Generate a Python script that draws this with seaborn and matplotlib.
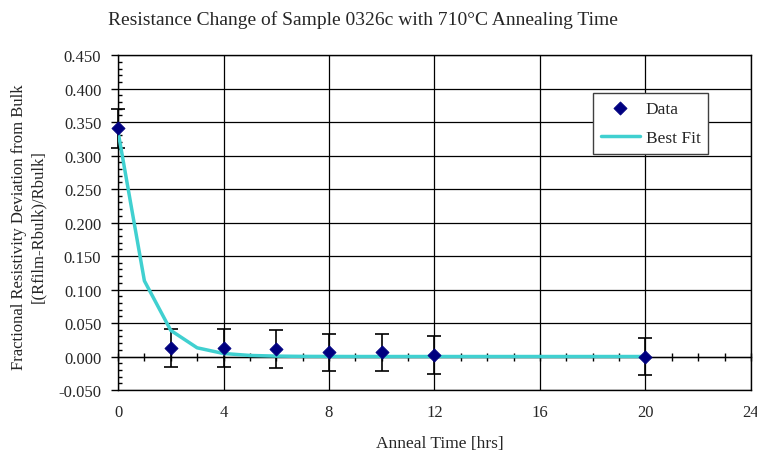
import numpy as np
import pandas as pd
import seaborn as sns
import matplotlib.pyplot as plt
from matplotlib.ticker import MultipleLocator, FormatStrFormatter, NullFormatter

# Measured data
anneal_hrs = [0, 2, 4, 6, 8, 10, 12, 20]
frac_dev = [0.341, 0.013, 0.013, 0.011, 0.006, 0.006, 0.002, 0.000]
frac_err = [0.029, 0.028, 0.028, 0.028, 0.028, 0.028, 0.028, 0.028]

# Best fit curve
fit_hrs = [0, 1, 2, 3, 4, 5, 6, 7, 8, 9, 10, 11, 12, 13, 14, 15, 16, 17, 18, 19, 20]
fit_dev = [0.336, 0.113, 0.039, 0.013, 0.0045, 0.0016, 0.0006, 0.0002, 0.0001, 0.0, 0.0,
           0.0, 0.0, 0.0, 0.0, 0.0, 0.0, 0.0, 0.0, 0.0, 0.0]

df = pd.DataFrame({"hrs": anneal_hrs, "dev": frac_dev, "err": frac_err})
df_fit = pd.DataFrame({"hrs": fit_hrs, "dev": fit_dev})

sns.set_theme(style="white")
plt.rcParams['font.family'] = ['Liberation Serif', 'DejaVu Serif']

fig = plt.figure(figsize=(7.57, 4.60), dpi=100)
ax = fig.add_axes([0.1559, 0.150, 0.8361, 0.728])

ax.errorbar(df["hrs"], df["dev"], yerr=df["err"], fmt="none", ecolor="black",
            elinewidth=1.2, capsize=5, capthick=1.2, zorder=3, clip_on=False)
sns.lineplot(data=df_fit, x="hrs", y="dev", ax=ax, color="#40D0D0", linewidth=2.5,
             label="Best Fit", zorder=4)
sns.scatterplot(data=df, x="hrs", y="dev", ax=ax, marker="D", color="#000080", s=45,
                edgecolor="#000080", label="Data", zorder=5, clip_on=False)

ax.set_xlim(0, 24)
ax.set_ylim(-0.05, 0.45)
ax.xaxis.set_major_locator(MultipleLocator(4))
ax.yaxis.set_major_locator(MultipleLocator(0.05))
ax.yaxis.set_minor_locator(MultipleLocator(0.01))
ax.yaxis.set_major_formatter(FormatStrFormatter("%.3f"))
ax.grid(True, which="major", color="black", linewidth=0.9)
ax.set_axisbelow(True)
for s in ax.spines.values():
    s.set_color("black")
    s.set_linewidth(1.0)

ax.tick_params(axis="x", which="major", length=0, pad=10, labelsize=12)
ax.tick_params(axis="y", which="major", direction="out", length=5, width=1,
               color="black", left=True, labelsize=12, pad=7)
ax.tick_params(axis="y", which="minor", direction="in", length=3, width=1,
               color="black", left=True)

# x axis crossing at y = 0
zero_pos = (0 - (-0.05)) / 0.5
sec = ax.secondary_xaxis(zero_pos)
sec.xaxis.set_major_locator(MultipleLocator(4))
sec.xaxis.set_minor_locator(MultipleLocator(1))
sec.xaxis.set_major_formatter(NullFormatter())
sec.tick_params(which="both", direction="inout", length=6, width=1, color="black")
sec.spines["bottom"].set_linewidth(1.0)

ax.set_xlabel("Anneal Time [hrs]", fontsize=12.5)
ax.xaxis.set_label_coords(0.508, -0.134)
ax.set_ylabel("Fractional Resistivity Deviation from Bulk\n[(Rfilm-Rbulk)/Rbulk]",
              fontsize=12, linespacing=1.2)
ax.yaxis.set_label_coords(-0.114, 0.49)
fig.suptitle("Resistance Change of Sample 0326c with 710\u00b0C Annealing Time",
             x=0.479, y=0.975, fontsize=14)

handles, labels = ax.get_legend_handles_labels()
order = [labels.index("Data"), labels.index("Best Fit")]
leg = ax.legend([handles[i] for i in order], [labels[i] for i in order],
                loc="upper left", bbox_to_anchor=(0.750, 0.888), fontsize=12.5,
                frameon=True, fancybox=False, edgecolor="#404040", framealpha=1,
                handlelength=2.3, borderpad=0.45, labelspacing=0.75,
                borderaxespad=0, handletextpad=0.3)
leg.get_frame().set_linewidth(1.0)

fig.savefig("out.png", dpi=100)
